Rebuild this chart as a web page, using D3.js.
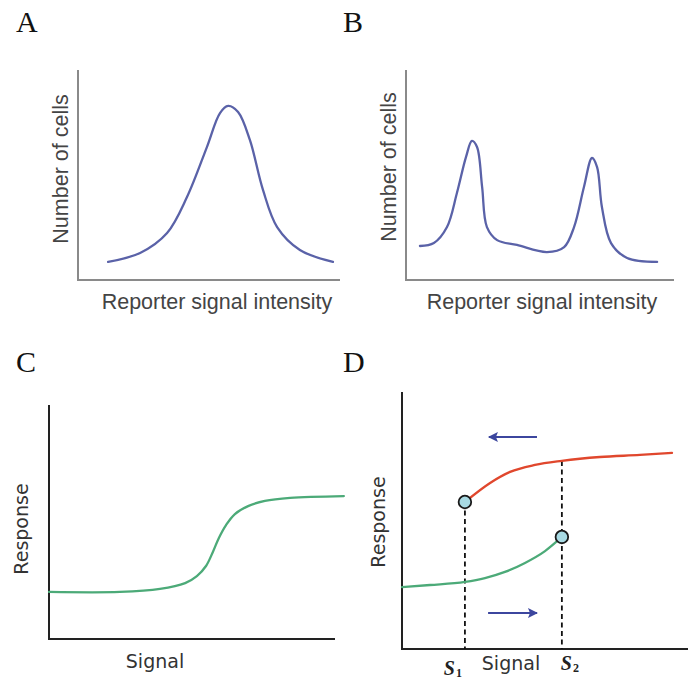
<!DOCTYPE html>
<html>
<head>
<meta charset="utf-8">
<script src="https://cdn.jsdelivr.net/npm/d3@7"></script>
<style>
  html, body { margin: 0; padding: 0; background: #fff; }
  svg { display: block; }
</style>
</head>
<body>
<svg id="chart" width="688" height="689"></svg>
<script>
// curve values (x and y on a 0-100 scale per panel)
const unimodal = [
  [11.5, 8.6], [23.7, 12.9], [34.0, 22.4], [41.6, 39.5], [49.2, 63.3], [54.2, 79.5],
  [57.3, 82.9], [61.1, 80.0], [65.6, 66.7], [70.6, 42.9], [76.0, 25.2], [84.7, 14.3], [97.3, 8.6]
];
const bimodal = [
  [5.2, 16.2], [10.4, 17.6], [15.3, 25.2], [19.0, 41.4], [22.4, 58.6], [24.6, 66.2],
  [26.5, 63.3], [28.4, 44.3], [30.2, 25.2], [34.0, 19.0], [41.4, 16.7], [52.6, 13.3],
  [59.0, 15.7], [62.7, 25.2], [66.4, 44.3], [69.4, 58.1], [71.3, 53.8], [73.1, 34.8],
  [76.5, 17.6], [82.5, 10.5], [93.7, 8.6]
];
const graded = [
  [0, 20.1], [24.8, 20.1], [38.8, 21.4], [47.6, 23.9], [51.7, 26.9], [54.9, 31.2],
  [57.3, 37.2], [59.4, 43.2], [61.9, 48.7], [65.0, 53.4], [69.6, 56.8], [75.5, 59.0],
  [84.3, 60.3], [103.1, 61.1]
];
const upperBranch = [
  [22.0, 57.2], [30.8, 64.6], [37.8, 68.9], [46.5, 71.6], [55.9, 73.2], [69.2, 74.7],
  [83.2, 75.5], [94.4, 76.3]
];
const lowerBranch = [
  [0, 24.1], [9.8, 24.9], [22.0, 26.1], [29.0, 27.6], [36.0, 30.0], [43.0, 33.5],
  [50.0, 38.1], [55.9, 43.6]
];
const thresholds = [
  { name: "S", sub: "1", x: 22.0, top: 57.2 },
  { name: "S", sub: "2", x: 55.9, top: 73.2 }
];
const jumpPoints = [[22.0, 57.2], [55.9, 43.6]];
const arrows = [
  { x1: 47.2, x2: 30.4, y: 82.5 },
  { x1: 30.1, x2: 47.2, y: 14.0 }
];

const svg = d3.select("#chart");

svg.append("defs")
  .append("marker")
  .attr("id", "arrow-head")
  .attr("viewBox", "0 0 10 10")
  .attr("refX", 9)
  .attr("refY", 5)
  .attr("markerWidth", 6.5)
  .attr("markerHeight", 5)
  .attr("markerUnits", "strokeWidth")
  .attr("orient", "auto")
  .append("path")
  .attr("d", "M0,0 L10,5 L0,10 L2,5 Z")
  .attr("fill", "#3c469e");

function makePanel(opts) {
  const x = d3.scaleLinear().domain([0, 100]).range([opts.left, opts.right]);
  const y = d3.scaleLinear().domain([0, 100]).range([opts.bottom, opts.top]);
  const g = svg.append("g").attr("class", "panel");

  g.append("text")
    .attr("x", opts.letterX)
    .attr("y", opts.letterY)
    .attr("font-family", "'Liberation Serif', 'Times New Roman', serif")
    .attr("font-size", 30)
    .attr("fill", "#111")
    .text(opts.letter);

  g.append("path")
    .attr("d", `M${x(0)},${y(100)} V${y(0)} H${x(100)}`)
    .attr("fill", "none")
    .attr("stroke", opts.axisColor)
    .attr("stroke-width", 2);

  g.append("text")
    .attr("x", opts.xLabelX)
    .attr("y", opts.xLabelY)
    .attr("text-anchor", "middle")
    .attr("font-family", opts.font)
    .attr("font-size", opts.fontSize)
    .attr("fill", opts.textColor)
    .text(opts.xLabel);

  g.append("text")
    .attr("transform", `translate(${opts.yLabelX},${opts.yLabelY}) rotate(-90)`)
    .attr("text-anchor", "middle")
    .attr("font-family", opts.font)
    .attr("font-size", opts.fontSize)
    .attr("fill", opts.textColor)
    .text(opts.yLabel);

  return { g, x, y };
}

function drawCurve(panel, data, color, curve) {
  const line = d3.line()
    .x((d) => panel.x(d[0]))
    .y((d) => panel.y(d[1]))
    .curve(curve || d3.curveCatmullRom.alpha(0.5));

  panel.g.append("path")
    .datum(data)
    .attr("d", line)
    .attr("fill", "none")
    .attr("stroke", color)
    .attr("stroke-width", 2.3)
    .attr("stroke-linecap", "round");
}

const sansAB = "'Liberation Sans', Arial, sans-serif";
const sansCD = "'DejaVu Sans', Verdana, sans-serif";

const panelA = makePanel({
  letter: "A", letterX: 16, letterY: 32,
  left: 78, right: 340, top: 70, bottom: 280,
  axisColor: "#8a8a8a", font: sansAB, fontSize: 21.5, textColor: "#444",
  xLabel: "Reporter signal intensity", xLabelX: 217, xLabelY: 309,
  yLabel: "Number of cells", yLabelX: 68, yLabelY: 169
});
drawCurve(panelA, unimodal, "#5a62a8");

const panelB = makePanel({
  letter: "B", letterX: 343, letterY: 32,
  left: 406, right: 674, top: 70, bottom: 280,
  axisColor: "#8a8a8a", font: sansAB, fontSize: 21.5, textColor: "#444",
  xLabel: "Reporter signal intensity", xLabelX: 542, xLabelY: 309,
  yLabel: "Number of cells", yLabelX: 396, yLabelY: 167
});
drawCurve(panelB, bimodal, "#5a62a8");

const panelC = makePanel({
  letter: "C", letterX: 16, letterY: 372,
  left: 49, right: 335, top: 405, bottom: 639,
  axisColor: "#222", font: sansCD, fontSize: 19, textColor: "#333",
  xLabel: "Signal", xLabelX: 155, xLabelY: 668,
  yLabel: "Response", yLabelX: 28, yLabelY: 529
});
drawCurve(panelC, graded, "#4caa78");

const panelD = makePanel({
  letter: "D", letterX: 343, letterY: 372,
  left: 402, right: 688, top: 392, bottom: 649,
  axisColor: "#222", font: sansCD, fontSize: 19, textColor: "#333",
  xLabel: "Signal", xLabelX: 511, xLabelY: 670,
  yLabel: "Response", yLabelX: 385, yLabelY: 522
});

panelD.g.selectAll("line.threshold")
  .data(thresholds)
  .join("line")
  .attr("class", "threshold")
  .attr("x1", (d) => panelD.x(d.x))
  .attr("x2", (d) => panelD.x(d.x))
  .attr("y1", (d) => panelD.y(d.top))
  .attr("y2", panelD.y(0))
  .attr("stroke", "#111")
  .attr("stroke-width", 1.8)
  .attr("stroke-dasharray", "5,3.5");

drawCurve(panelD, upperBranch, "#e0472d", d3.curveMonotoneX);
drawCurve(panelD, lowerBranch, "#4caa78", d3.curveMonotoneX);

panelD.g.selectAll("circle.jump")
  .data(jumpPoints)
  .join("circle")
  .attr("class", "jump")
  .attr("cx", (d) => panelD.x(d[0]))
  .attr("cy", (d) => panelD.y(d[1]))
  .attr("r", 6.3)
  .attr("fill", "#a8dae3")
  .attr("stroke", "#1a1a1a")
  .attr("stroke-width", 1.8);

panelD.g.selectAll("line.direction")
  .data(arrows)
  .join("line")
  .attr("class", "direction")
  .attr("x1", (d) => panelD.x(d.x1))
  .attr("x2", (d) => panelD.x(d.x2))
  .attr("y1", (d) => panelD.y(d.y))
  .attr("y2", (d) => panelD.y(d.y))
  .attr("stroke", "#3c469e")
  .attr("stroke-width", 2)
  .attr("marker-end", "url(#arrow-head)");

const thresholdLabels = panelD.g.selectAll("text.s-label")
  .data(thresholds)
  .join("text")
  .attr("class", "s-label")
  .attr("x", (d) => panelD.x(d.x) + (d.sub === "1" ? -12 : 8))
  .attr("y", (d) => (d.sub === "1" ? 675 : 670))
  .attr("text-anchor", "middle")
  .attr("font-family", "'Liberation Serif', 'Times New Roman', serif")
  .attr("font-style", "italic")
  .attr("font-weight", "bold")
  .attr("font-size", 20)
  .attr("fill", "#222");

thresholdLabels.append("tspan").text((d) => d.name);
thresholdLabels.append("tspan")
  .attr("font-size", 12)
  .attr("font-style", "normal")
  .attr("dx", 1)
  .attr("dy", 2)
  .text((d) => d.sub);
</script>
</body>
</html>
